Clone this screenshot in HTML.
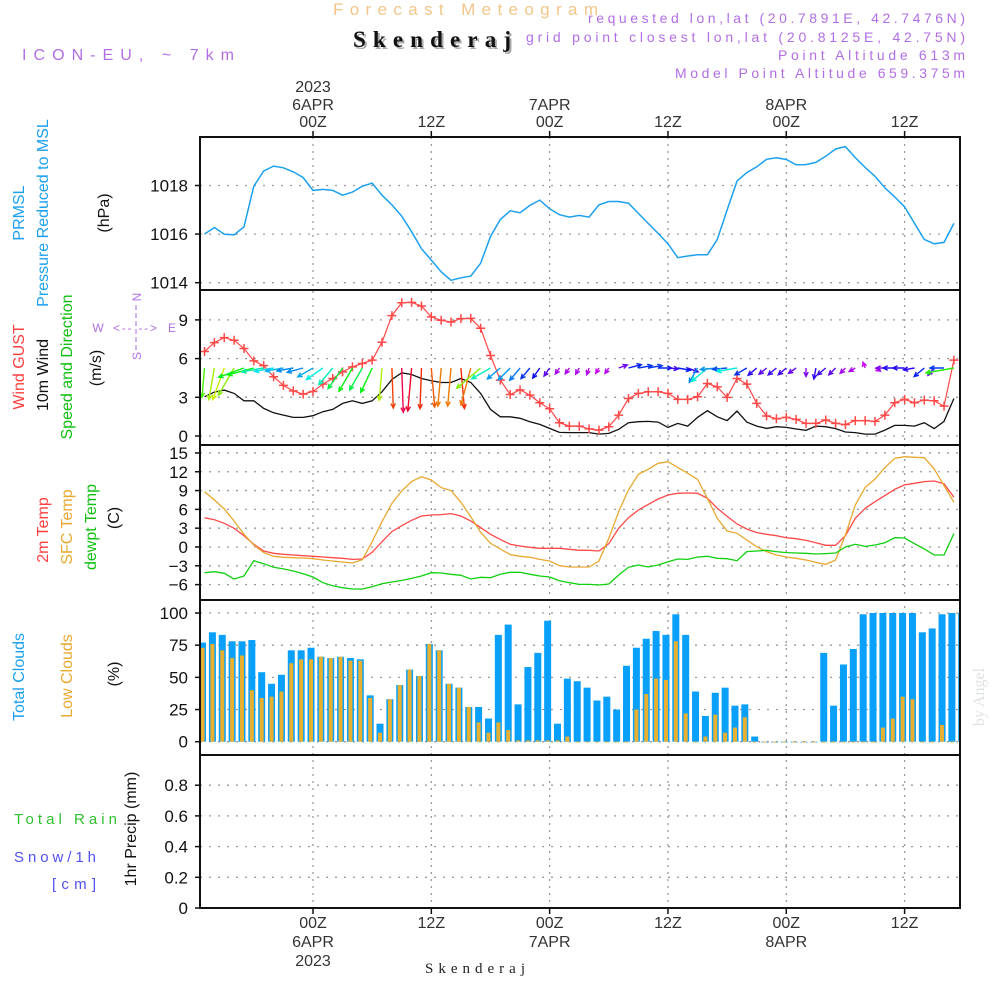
<!DOCTYPE html>
<html><head><meta charset="utf-8"><title>Forecast Meteogram - Skenderaj</title>
<style>
html,body{margin:0;padding:0;background:#fff;}
svg{display:block;font-family:"Liberation Sans",sans-serif;}
</style></head>
<body>
<svg id="chart" width="1000" height="1000" viewBox="0 0 1000 1000" xmlns="http://www.w3.org/2000/svg">
  <defs>
    <clipPath id="plotclip"><rect x="200" y="137" width="760" height="771"/></clipPath>
  </defs>
  <text x="333" y="15" font-size="17" fill="#f2c58a" textLength="265" lengthAdjust="spacing">Forecast Meteogram</text>
  <text x="355" y="49" font-size="23" font-weight="bold" font-family="Liberation Serif, serif" fill="#aaa" textLength="158" lengthAdjust="spacing">Skenderaj</text>
  <text x="353" y="47" font-size="23" font-weight="bold" font-family="Liberation Serif, serif" fill="#111" textLength="158" lengthAdjust="spacing">Skenderaj</text>
  <text x="22" y="60" font-size="16" fill="#b26ee6" textLength="212" lengthAdjust="spacing">ICON-EU, ~ 7km</text>
  <text x="588" y="23" font-size="14" fill="#b26ee6" textLength="377" lengthAdjust="spacing">requested lon,lat (20.7891E, 42.7476N)</text>
  <text x="526" y="42" font-size="14" fill="#b26ee6" textLength="439" lengthAdjust="spacing">grid point closest lon,lat (20.8125E, 42.75N)</text>
  <text x="778" y="60" font-size="14" fill="#b26ee6" textLength="187" lengthAdjust="spacing">Point Altitude 613m</text>
  <text x="675" y="78" font-size="14" fill="#b26ee6" textLength="290" lengthAdjust="spacing">Model Point Altitude 659.375m</text>

  <g font-size="16" text-anchor="middle">
    <text transform="translate(24,213) rotate(-90)" fill="#1ca0f0">PRMSL</text>
    <text transform="translate(48,213) rotate(-90)" fill="#1ca0f0">Pressure Reduced to MSL</text>
    <text transform="translate(109,213) rotate(-90)" fill="#111">(hPa)</text>
    <text transform="translate(24,367) rotate(-90)" fill="#ff4040">Wind GUST</text>
    <text transform="translate(48,375) rotate(-90)" fill="#111">10m Wind</text>
    <text transform="translate(72,367) rotate(-90)" fill="#10c010">Speed and Direction</text>
    <text transform="translate(101,368) rotate(-90)" fill="#111">(m/s)</text>
    <text transform="translate(48,530) rotate(-90)" fill="#ff4040">2m Temp</text>
    <text transform="translate(72,527) rotate(-90)" fill="#e8a830">SFC Temp</text>
    <text transform="translate(96,527) rotate(-90)" fill="#10c010">dewpt Temp</text>
    <text transform="translate(119,518) rotate(-90)" fill="#111">(C)</text>
    <text transform="translate(24,677) rotate(-90)" fill="#1ca0f0">Total Clouds</text>
    <text transform="translate(72,676) rotate(-90)" fill="#e8a830">Low Clouds</text>
    <text transform="translate(119,674) rotate(-90)" fill="#111">(%)</text>
    <text transform="translate(136,829) rotate(-90)" fill="#111">1hr Precip (mm)</text>
  </g>
  <text x="14" y="824" font-size="15" fill="#30c030" textLength="103" lengthAdjust="spacing">Total   Rain</text>
  <text x="14" y="862" font-size="15" fill="#5050f0" textLength="82" lengthAdjust="spacing">Snow/1h</text>
  <text x="52" y="889" font-size="15" fill="#5050f0" textLength="44" lengthAdjust="spacing">[cm]</text>
  <g fill="#b26ee6" font-size="12" text-anchor="middle">
    <text transform="translate(141,297) rotate(-90)">N</text>
    <text x="98" y="332">W</text>
    <text x="172" y="332">E</text>
    <text transform="translate(141,356) rotate(-90)">S</text>
    <text x="135" y="332" font-size="12" textLength="44" lengthAdjust="spacing">&lt;-- --&gt;</text>
    <line x1="136" y1="305" x2="136" y2="350" stroke="#b26ee6" stroke-width="1" stroke-dasharray="5,3"/>
  </g>
  <text transform="translate(984,697) rotate(-90)" font-size="16" font-family="Liberation Serif, serif" fill="#dfe3df" text-anchor="middle">by Angel</text>
  <text x="475" y="973" font-size="15" font-family="Liberation Serif, serif" fill="#222" text-anchor="middle" textLength="100" lengthAdjust="spacing">Skenderaj</text>

  <g id="grid"></g>
  <g id="marks" clip-path="url(#plotclip)"></g>
  <g id="axes"></g>
</svg>
<script>
const hoursStart = -11;
const pressure = [1016.0,1016.27,1015.99,1015.97,1016.3,1017.97,1018.6,1018.8,1018.73,1018.56,1018.33,
1017.8,1017.84,1017.8,1017.6,1017.73,1017.97,1018.1,1017.6,1017.2,1016.74,1016.1,1015.4,1014.93,1014.45,1014.1,1014.2,1014.27,1014.8,1015.9,1016.6,1016.96,1016.88,1017.18,1017.4,1017.04,1016.8,1016.7,1016.77,
1016.7,1017.2,1017.34,1017.34,1017.27,1016.85,1016.44,1016.03,1015.6,1015.03,1015.1,1015.15,1015.15,1015.78,1016.99,1018.18,1018.53,1018.77,1019.08,1019.14,1019.07,1018.85,1018.86,1018.95,1019.2,1019.5,1019.6,1019.15,1018.74,1018.38,1017.9,1017.53,1017.12,1016.44,1015.78,1015.6,1015.66,1016.44];
const windGust = [6.55,7.24,7.63,7.42,6.78,5.82,5.46,4.59,3.92,3.5,3.25,
3.45,4.02,4.46,4.97,5.36,5.62,5.88,7.27,9.33,10.33,10.36,10.08,9.23,8.97,8.84,9.1,9.12,8.35,6.24,4.33,3.22,3.58,3.17,2.58,2.11,1.03,0.77,0.77,
0.55,0.46,0.72,1.62,2.91,3.3,3.43,3.43,3.3,2.84,2.84,3.04,4.07,3.81,2.99,4.46,4.02,2.53,1.55,1.34,1.44,1.29,0.98,0.98,1.24,0.98,0.88,1.19,1.19,1.13,1.62,2.58,2.84,2.58,2.78,2.73,2.32,5.88];
const windSpeed = [3.04,3.4,3.56,3.3,2.73,2.73,2.14,1.8,1.62,1.44,1.44,
1.57,1.88,2.06,2.53,2.73,2.53,2.73,3.43,4.38,4.9,4.77,4.46,4.28,4.15,4.15,4.46,4.15,3.3,2.06,1.49,1.49,1.37,1.11,0.9,0.59,0.28,0.26,0.26,
0.26,0.15,0.2,0.52,1.03,1.11,1.13,1.08,0.67,0.98,0.77,1.44,1.96,1.49,1.19,1.93,1.08,0.77,0.59,0.72,0.67,0.54,0.44,0.77,0.72,0.57,0.31,0.26,0.15,0.15,0.46,0.82,0.82,0.77,1.03,0.57,1.13,2.91];
const windToDir = [95,100,110,120,160,165,170,170,170,170,165,
150,145,130,125,120,120,115,95,88,88,95,92,85,95,95,85,105,140,150,140,135,130,130,125,125,125,125,120,
110,120,125,-20,-15,-10,-10,0,5,10,20,120,140,175,175,170,150,140,140,140,140,145,90,100,140,135,135,150,250,30,180,180,180,170,140,130,180,170];
const temp2m = [4.68,4.36,3.78,2.98,1.81,0.43,-0.64,-1.0,-1.17,-1.28,-1.38,-1.49,-1.6,-1.7,-1.8,-1.97,-1.91,-0.85,0.85,2.45,3.4,4.26,4.95,5.1,5.16,5.32,4.95,4.15,3.09,2.02,1.22,0.43,0.16,-0.05,-0.21,-0.21,-0.21,-0.37,-0.53,
-0.53,-0.64,0.53,2.98,4.68,5.9,6.8,7.66,8.3,8.56,8.62,8.56,7.77,6.17,4.89,3.67,2.87,2.29,2.02,1.81,1.49,1.33,1.06,0.69,0.27,0.27,1.81,4.57,6.17,7.23,8.19,9.2,9.9,10.16,10.43,10.53,10.1,7.93];
const tempSfc = [8.83,7.5,6.06,4.15,2.02,0.32,-0.9,-1.49,-1.65,-1.7,-1.76,-1.86,-2.07,-2.23,-2.39,-2.55,-2.02,0.85,4.04,6.97,8.94,10.43,11.22,10.69,9.47,8.99,7.13,4.84,2.34,0.59,-0.32,-1.22,-1.49,-1.65,-1.97,-2.23,-2.98,-3.19,-3.19,
-3.19,-2.23,1.38,5.64,9.1,11.6,12.4,13.35,13.6,12.66,11.75,10.8,7.77,4.57,2.55,2.18,1.12,0.05,-0.74,-1.28,-1.6,-1.8,-2.07,-2.45,-2.77,-2.07,1.91,6.7,9.5,10.85,12.66,14.15,14.4,14.3,14.25,12.45,9.8,7.13];
const dewpoint = [-4.1,-3.94,-4.2,-5.1,-4.63,-2.18,-2.66,-3.24,-3.5,-3.83,-4.26,-4.79,-5.69,-6.17,-6.49,-6.7,-6.7,-6.33,-5.85,-5.59,-5.32,-5.0,-4.63,-4.1,-4.15,-4.36,-4.52,-5.1,-4.84,-4.9,-4.36,-4.04,-4.04,-4.36,-4.63,-4.79,-5.37,-5.69,-5.96,
-5.96,-6.06,-5.9,-4.47,-3.24,-2.87,-3.19,-2.87,-2.34,-1.91,-1.97,-1.6,-1.49,-1.8,-1.86,-2.18,-0.74,-0.64,-0.53,-0.74,-0.9,-0.96,-1.0,-1.12,-1.06,-0.96,0,0.43,0.1,0.32,0.69,1.49,1.44,0.53,-0.32,-1.28,-1.28,2.13];
const totalClouds = [77,85,83,78,78,79,54,45,52,71,71,73,66,65,66,65,64,36,14,33,44,56,51,76,71,45,42,27,27,18,83,91,29,58,69,94,14,49,47,42,32,35,25,59,73,80,86,83,99,83,39,20,38,42,28,29,4,0,0,0,0,0,0,69,28,60,72,99,100,100,100,100,100,85,88,99,100,100];
const lowClouds = [73,76,71,65,67,40,34,35,39,61,64,64,66,65,66,63,63,34,7,33,44,56,51,76,71,45,42,27,15,7,15,9,1,1,1,1,1,4,0,0,0,0,0,0,25,37,49,48,78,22,0,4,21,7,11,19,0,0,0,0,0,0,0,0,0,0,0,0,0,11,18,35,33,0,0,13,0,12];
const precip = new Array(78).fill(0);
const timeTicksHours = [0,12,24,36,48,60];
const timeTickLabels = ["00Z","12Z","00Z","12Z","00Z","12Z"];
const dateLabels = ["6APR","","7APR","","8APR",""];
const pressureTicks = [1014,1016,1018];
const windTicks = [0,3,6,9];
const tempTicks = [-6,-3,0,3,6,9,12,15];
const cloudTicks = [0,25,50,75,100];
const precipTicks = [0,0.2,0.4,0.6,0.8];

const X0 = 313, PXH = 9.86, LEFT = 200, RIGHT = 960;
function xT(t){ return X0 + PXH*t; }
function yP(p){ return 282.7 - (p-1014)*24.3; }
function yW(v){ return 436 - v*12.9; }
function yTmp(v){ return 547 - v*6.27; }
function yC(v){ return 741.7 - v*1.287; }
function yR(v){ return 908 - v*153.5; }
const panels = [{top:137,bot:290},{top:290,bot:445},{top:445,bot:600},{top:600,bot:755},{top:755,bot:908}];

const NS = "http://www.w3.org/2000/svg";
const grid = document.getElementById('grid');
const marks = document.getElementById('marks');
const axes = document.getElementById('axes');
function mk(tag, attrs, parent){
  const e = document.createElementNS(NS, tag);
  for (const k in attrs) e.setAttribute(k, attrs[k]);
  parent.appendChild(e);
  return e;
}
function pts(arr, yf){ return arr.map((v,i)=> xT(hoursStart+i).toFixed(1)+","+yf(v).toFixed(1)).join(" "); }

timeTicksHours.forEach((h,i)=>{
  const x = xT(h);
  const g = mk('line',{x1:x,y1:137,x2:x,y2:908,stroke:'#9a9a9a','stroke-width':1.3,'stroke-dasharray':'2,5'},grid);
  
  
  const tt = mk('line',{x1:x,y1:131,x2:x,y2:137,stroke:'#111','stroke-width':1.5},axes);
  
  
  const tb = mk('line',{x1:x,y1:908,x2:x,y2:914,stroke:'#111','stroke-width':1.5},axes);
  
  
  const l1 = mk('text',{x:x,y:127,'font-size':16,'text-anchor':'middle',fill:'#333'},axes);
  l1.textContent = timeTickLabels[i];
  
  
  const l2 = mk('text',{x:x,y:928,'font-size':16,'text-anchor':'middle',fill:'#333'},axes);
  l2.textContent = timeTickLabels[i];
  
  
  if (dateLabels[i]) {
    const d1 = mk('text',{x:x,y:110,'font-size':16,'text-anchor':'middle',fill:'#333'},axes);
    d1.textContent = dateLabels[i];
    
    
    const d2 = mk('text',{x:x,y:947,'font-size':16,'text-anchor':'middle',fill:'#333'},axes);
    d2.textContent = dateLabels[i];
    
    
  }
  if (i===0) {
    const y1 = mk('text',{x:x,y:92,'font-size':16,'text-anchor':'middle',fill:'#333'},axes);
    y1.textContent = "2023";
    
    
    const y2 = mk('text',{x:x,y:966,'font-size':16,'text-anchor':'middle',fill:'#333'},axes);
    y2.textContent = "2023";
    
    
  }
});

function yAxis(ticks, yf, name, fmt){
  ticks.forEach(v=>{
    const y = yf(v);
    const g = mk('line',{x1:LEFT,y1:y,x2:RIGHT,y2:y,stroke:'#9a9a9a','stroke-width':1.3,'stroke-dasharray':'2,7'},grid);
    
    
    const t = mk('line',{x1:LEFT-5,y1:y,x2:LEFT,y2:y,stroke:'#111','stroke-width':1.5},axes);
    
    
    const l = mk('text',{x:LEFT-12,y:y+6,'font-size':17,'text-anchor':'end',fill:'#111'},axes);
    l.textContent = fmt ? fmt(v) : String(v);
    
    
  });
}
yAxis(pressureTicks, yP, 'pressure-axis');
yAxis(windTicks, yW, 'wind-axis');
yAxis(tempTicks, yTmp, 'temp-axis', v=> v<0 ? '\u2212'+Math.abs(v) : String(v));
yAxis(cloudTicks, yC, 'cloud-axis');
yAxis(precipTicks, yR, 'precip-axis', v=> v===0 ? '0' : v.toFixed(1));

totalClouds.forEach((v,i)=>{
  const cx = xT(hoursStart+i) - 2;
  const b = mk('rect',{x:cx-3.5,y:yC(v),width:7,height:Math.max(yC(0)-yC(v),0.8),fill:'#08a0fa'},marks);
  
  
});
lowClouds.forEach((v,i)=>{
  const cx = xT(hoursStart+i) - 2;
  const b = mk('rect',{x:cx-2,y:yC(v),width:4,height:Math.max(yC(0)-yC(v),0.8),fill:'#e8b030'},marks);
  
  
});

const pl = mk('polyline',{points:pts(pressure,yP),fill:'none',stroke:'#1ca0f0','stroke-width':1.5},marks);



const ws = mk('polyline',{points:pts(windSpeed,yW),fill:'none',stroke:'#111','stroke-width':1.3},marks);



const gl = mk('polyline',{points:pts(windGust,yW),fill:'none',stroke:'#ff4848','stroke-width':1.2},marks);


windGust.forEach((v,i)=>{
  const x = xT(hoursStart+i), y = yW(v);
  const m = mk('path',{d:`M${x-4.5},${y}H${x+4.5}M${x},${y-4.5}V${y+4.5}`,stroke:'#ff4848','stroke-width':1.5,fill:'none'},marks);
  
  
});

function speedColor(s){
  const h = ((300 - 65*s) % 360 + 360) % 360;
  return `hsl(${h.toFixed(0)},95%,48%)`;
}
windToDir.forEach((d,i)=>{
  const s = windSpeed[i];
  const x = xT(hoursStart+i), y = 368;
  const L = 5 + 8*s;
  const a = d*Math.PI/180;
  const hx = x + L*Math.cos(a), hy = y + L*Math.sin(a);
  const hl = 5, spread = 0.45;
  const b1x = hx - hl*Math.cos(a-spread), b1y = hy - hl*Math.sin(a-spread);
  const b2x = hx - hl*Math.cos(a+spread), b2y = hy - hl*Math.sin(a+spread);
  const ar = mk('path',{d:`M${x.toFixed(1)},${y}L${hx.toFixed(1)},${hy.toFixed(1)}M${b1x.toFixed(1)},${b1y.toFixed(1)}L${hx.toFixed(1)},${hy.toFixed(1)}L${b2x.toFixed(1)},${b2y.toFixed(1)}`,stroke:speedColor(s),'stroke-width':1.4,fill:'none'},marks);
  
  
});

const tr = mk('polyline',{points:pts(temp2m,yTmp),fill:'none',stroke:'#ff4848','stroke-width':1.3},marks);


const to = mk('polyline',{points:pts(tempSfc,yTmp),fill:'none',stroke:'#e8a830','stroke-width':1.3},marks);


const tg = mk('polyline',{points:pts(dewpoint,yTmp),fill:'none',stroke:'#10d010','stroke-width':1.3},marks);



const pr = mk('polyline',{points:pts(precip,yR),fill:'none',stroke:'#111','stroke-width':1.3,'stroke-dasharray':'4,2'},marks);



panels.forEach((p,i)=>{
  const r = mk('rect',{x:LEFT,y:p.top,width:RIGHT-LEFT,height:p.bot-p.top,fill:'none',stroke:'#111','stroke-width':2},axes);
  
  
});
</script>
</body></html>
